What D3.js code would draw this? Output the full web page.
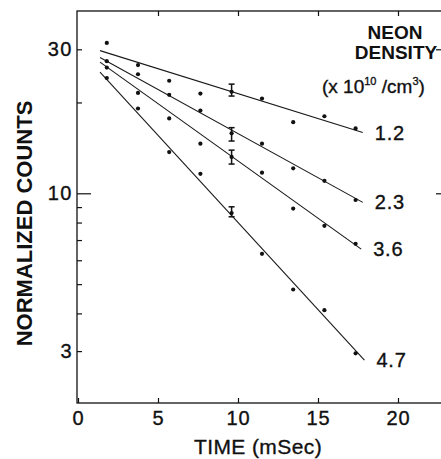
<!DOCTYPE html>
<html>
<head>
<meta charset="utf-8">
<script src="https://cdn.jsdelivr.net/npm/d3@7"></script>
<style>
  html, body { margin: 0; padding: 0; background: #fff; }
  svg { display: block; }
  text { font-family: "Liberation Sans", Arial, Helvetica, sans-serif; fill: #111; }
  .heavy { stroke: #111; stroke-width: 0.35px; }
</style>
</head>
<body>
<svg id="chart" width="441" height="459"></svg>
<script>
// ---- data ----
const times = [1.8, 3.75, 5.7, 7.65, 9.6, 11.5, 13.45, 15.4, 17.35];
const densities = ["1.2", "2.3", "3.6", "4.7"];
const counts12 = [31.5, 26.6, 23.6, 21.4, 21.7, 20.6, 17.2, 18.0, 16.4];
const counts23 = [27.4, 24.8, 21.2, 18.8, 15.8, 14.6, 12.1, 11.0, 9.5];
const counts36 = [26.1, 21.5, 17.7, 14.6, 13.2, 11.7, 8.9, 7.8, 6.8];
const counts47 = [24.1, 19.1, 13.7, 11.6, 8.6, 6.3, 4.8, 4.1, 2.95];
const fitT0 = 1.375;
const fitT1 = [17.8, 17.8, 17.7, 17.9];
const fitStart = [29.7, 28.2, 27.2, 25.2];
const fitEnd = [15.9, 9.33, 6.53, 2.80];
const errT = 9.6;
const errLow = [21.0, 14.9, 12.5, 8.36];
const errHigh = [23.0, 16.5, 13.9, 9.02];
const xTicks = [0, 5, 10, 15, 20];
const yTicks = [30, 20, 10, 9, 8, 7, 6, 5, 4, 3];
const yLabels = [30, 10, 3];
const yMajor = [10];
const rightTicks = [30, 10];

// ---- layout ----
const svg = d3.select("#chart");
const frame = { left: 77, top: 11, bottom: 403, right: 443 };
const x = d3.scaleLinear().domain([0, 20]).range([78, 398]);
const y = d3.scaleLog().domain([10, 30]).range([193.3, 49.3]);
const ink = "#111";

const seriesCounts = [counts12, counts23, counts36, counts47];

// frame
svg.append("rect")
  .attr("x", frame.left).attr("y", frame.top)
  .attr("width", frame.right - frame.left).attr("height", frame.bottom - frame.top)
  .attr("fill", "none").attr("stroke", ink).attr("stroke-width", 1.3);

// left axis
const leftAxis = d3.axisLeft(y).tickValues(yTicks)
  .tickSize(-5).tickSizeOuter(0).tickPadding(4)
  .tickFormat(d => yLabels.includes(d) ? d3.format("d")(d) : "");
const gl = svg.append("g").attr("transform", `translate(${frame.left},0)`).call(leftAxis);
gl.select(".domain").remove();
gl.selectAll(".tick line").attr("stroke", ink).attr("stroke-width", 1.2)
  .attr("x2", d => yMajor.includes(d) ? 14 : 5);
gl.selectAll(".tick text").attr("class", "heavy")
  .style("font-size", "20px").style("letter-spacing", "1.5px").attr("fill", ink);

// right axis ticks
const rightAxis = d3.axisRight(y).tickValues(rightTicks).tickSize(-6).tickSizeOuter(0).tickFormat("");
const gr = svg.append("g").attr("transform", `translate(${frame.right - 1},0)`).call(rightAxis);
gr.select(".domain").remove();
gr.selectAll(".tick line").attr("stroke", ink).attr("stroke-width", 1.2);

// bottom axis
const bottomAxis = d3.axisBottom(x).tickValues(xTicks).tickSize(-5).tickSizeOuter(0).tickPadding(8)
  .tickFormat(d3.format("d"));
const gb = svg.append("g").attr("transform", `translate(0,${frame.bottom})`).call(bottomAxis);
gb.select(".domain").remove();
gb.selectAll(".tick line").attr("stroke", ink).attr("stroke-width", 1.2);
gb.selectAll(".tick text").attr("class", "heavy")
  .style("font-size", "20px").style("letter-spacing", "1px").attr("fill", ink);

// top axis
const topAxis = d3.axisTop(x).tickValues(xTicks.filter(d => d > 0)).tickSize(-5).tickSizeOuter(0).tickFormat("");
const gt = svg.append("g").attr("transform", `translate(0,${frame.top})`).call(topAxis);
gt.select(".domain").remove();
gt.selectAll(".tick line").attr("stroke", ink).attr("stroke-width", 1.2);

// axis titles
svg.append("text")
  .attr("transform", "translate(32,223.5) rotate(-90)")
  .attr("text-anchor", "middle")
  .style("font-size", "22px").style("font-weight", "bold")
  .text("NORMALIZED  COUNTS");

svg.append("text")
  .attr("class", "heavy")
  .attr("x", 258).attr("y", 454)
  .attr("text-anchor", "middle")
  .style("font-size", "21px").style("letter-spacing", "0.4px")
  .text("TIME (mSec)");

// fit lines
densities.forEach((d, i) => {
  svg.append("line")
    .attr("x1", x(fitT0)).attr("y1", y(fitStart[i]))
    .attr("x2", x(fitT1[i])).attr("y2", y(fitEnd[i]))
    .attr("stroke", "#1a1a1a").attr("stroke-width", 1.1);
});

// points
densities.forEach((d, i) => {
  svg.append("g").selectAll("circle")
    .data(times.map((t, j) => [t, seriesCounts[i][j]]))
    .join("circle")
    .attr("cx", p => x(p[0])).attr("cy", p => y(p[1]))
    .attr("r", 2.1).attr("fill", ink);
});

// error bars
densities.forEach((d, i) => {
  const g = svg.append("g").attr("stroke", ink).attr("stroke-width", 1.5);
  const cx = x(errT);
  g.append("line").attr("x1", cx).attr("x2", cx).attr("y1", y(errLow[i])).attr("y2", y(errHigh[i]));
  g.append("line").attr("x1", cx - 3).attr("x2", cx + 3).attr("y1", y(errLow[i])).attr("y2", y(errLow[i]));
  g.append("line").attr("x1", cx - 3).attr("x2", cx + 3).attr("y1", y(errHigh[i])).attr("y2", y(errHigh[i]));
});

// series labels
densities.forEach((d, i) => {
  svg.append("text")
    .attr("class", "heavy")
    .attr("x", x(fitT1[i]) + 12).attr("y", y(fitEnd[i]) + 7)
    .style("font-size", "20px").style("letter-spacing", "0.8px")
    .text(d);
});

// legend title
svg.append("text").attr("x", 395).attr("y", 39.3).attr("text-anchor", "middle")
  .style("font-size", "19px").style("font-weight", "bold").text("NEON");
svg.append("text").attr("x", 396).attr("y", 59.3).attr("text-anchor", "middle")
  .style("font-size", "19px").style("font-weight", "bold").text("DENSITY");
const unit = svg.append("text").attr("class", "heavy").attr("x", 322).attr("y", 93.3).style("font-size", "19px");
unit.append("tspan").text("(x 10");
unit.append("tspan").attr("dy", -8).style("font-size", "11px").text("10");
unit.append("tspan").attr("dy", 8).text(" /cm");
unit.append("tspan").attr("dy", -8).style("font-size", "11px").text("3");
unit.append("tspan").attr("dy", 8).text(")");
</script>
</body>
</html>
